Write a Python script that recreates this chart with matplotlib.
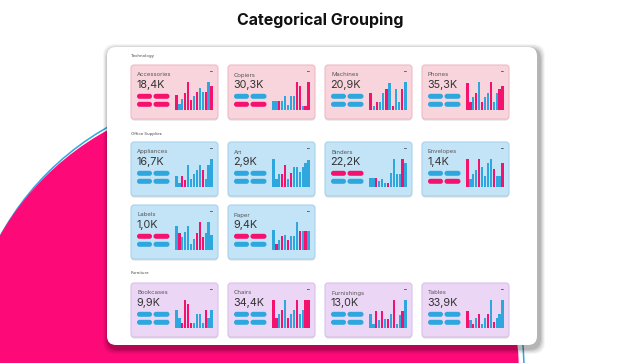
import matplotlib
matplotlib.use("Agg")
import matplotlib.pyplot as plt
from matplotlib.patches import FancyBboxPatch, Circle

plt.rcParams['font.family'] = ['Inter', 'DejaVu Sans']

PINK = "#f5126f"
BLUE = "#2ea7df"

# ---- data ----
sections = ["Technology", "Office Supplies", "Furniture"]
names = ["Accessories", "Copiers", "Machines", "Phones",
         "Appliances", "Art", "Binders", "Envelopes", "Labels", "Paper",
         "Bookcases", "Chairs", "Furnishings", "Tables"]
section_of = [0, 0, 0, 0, 1, 1, 1, 1, 1, 1, 2, 2, 2, 2]
totals = ["18,4K", "30,3K", "20,9K", "35,3K",
          "16,7K", "2,9K", "22,2K", "1,4K", "1,0K", "9,4K",
          "9,9K", "34,4K", "13,0K", "33,9K"]
# colour of the two pill rows (P = pink, B = blue)
pill_colors = ["PP", "BP", "BB", "BB", "BB", "BB", "PB", "BP", "PB", "PB",
               "BB", "BB", "BB", "BB"]
bar_colors = ["PBBPPPBPBBPBP", "BBPBBBBBPPBPP", "PBPBBPBPBBPB", "PPBPBPBBPBBPP",
              "BBPPBBBBBPBBB", "BBBPPBPBBBBBB", "BBPBBBPBBBBPB", "PBBBPBBBBPBBP",
              "BPBBBBBPPPBBB", "BPBPBPBBBPBPB",
              "BBPPPPBBBBPBB", "PPBPBPBBPBBPP", "BBPBPBPBPBBPB", "PBPBPBBPBPBBB"]
bar_heights = [
    [0.55, 0.2, 0.38, 0.6, 1.0, 0.35, 0.5, 0.65, 0.8, 0.65, 0.65, 1.0, 0.85],
    [0.33, 0.33, 0.33, 0.33, 0.5, 0.18, 0.5, 0.5, 1.0, 0.85, 0.15, 0.15, 1.0],
    [0.6, 0.15, 0.3, 0.3, 0.6, 0.75, 0.95, 0.15, 0.75, 0.3, 0.75, 1.0],
    [0.95, 0.3, 0.45, 0.6, 1.0, 0.3, 0.45, 0.6, 1.0, 0.3, 0.6, 0.75, 0.85],
    [0.4, 0.15, 0.4, 0.25, 0.8, 0.3, 0.45, 0.6, 0.8, 0.6, 0.3, 0.8, 1.0],
    [1.0, 0.3, 0.45, 0.45, 0.8, 0.3, 0.5, 0.7, 0.7, 0.55, 0.7, 0.85, 0.95],
    [0.32, 0.32, 0.32, 0.2, 0.3, 0.15, 0.15, 0.5, 1.0, 0.45, 0.45, 1.0, 0.85],
    [1.0, 0.3, 0.45, 0.62, 1.0, 0.7, 0.4, 0.85, 1.0, 0.65, 0.4, 0.4, 0.85],
    [0.85, 0.6, 0.45, 0.65, 0.85, 0.2, 0.4, 0.6, 1.0, 0.45, 0.6, 1.0, 0.55],
    [0.7, 0.2, 0.35, 0.5, 0.55, 0.35, 0.5, 0.5, 1.0, 0.68, 0.68, 0.68, 0.68],
    [0.65, 0.35, 0.18, 1.0, 0.85, 0.18, 0.18, 0.5, 0.5, 0.18, 0.65, 0.35, 0.65],
    [1.0, 0.35, 0.5, 0.65, 1.0, 0.35, 0.5, 0.65, 1.0, 0.5, 0.65, 1.0, 1.0],
    [0.5, 0.15, 0.62, 0.3, 0.62, 0.32, 0.32, 0.5, 1.0, 0.15, 0.48, 0.62, 1.0],
    [0.6, 0.3, 0.15, 0.35, 0.5, 0.15, 0.35, 0.5, 1.0, 0.2, 0.35, 0.5, 1.0],
]

# ---- layout (pixels) ----
W, H = 640, 363
card_fill = ["#f8d5dc", "#c3e3f6", "#ebd7f5"]
card_edge = ["#efb9c6", "#a8d2ec", "#d8c0ea"]
section_y = [56, 134, 273]
row_y = [65, 142, 205, 283]
card_row = [0, 0, 0, 0, 1, 1, 1, 1, 2, 2, 3, 3, 3, 3]
card_col = [0, 1, 2, 3, 0, 1, 2, 3, 0, 1, 0, 1, 2, 3]
x0, dx, cw, ch = 131, 97, 87, 54
cmap = {"P": PINK, "B": BLUE}

fig = plt.figure(figsize=(W / 100, H / 100), dpi=100)
ax = fig.add_axes([0, 0, 1, 1])
ax.set_xlim(0, W)
ax.set_ylim(H, 0)
ax.axis("off")

# background blob
ax.add_patch(Circle((245, 370), 279, fill=False, ec=BLUE, lw=1.1, zorder=1))
ax.add_patch(Circle((241, 374), 278, fc="#fe0a78", ec="none", zorder=2))

ax.text(W / 2, 20, "Categorical Grouping", ha="center", va="center",
        fontsize=11.5, fontweight="bold", color="#111111")

# white panel with soft shadow
for i, a in enumerate([0.04, 0.05, 0.06, 0.08, 0.09]):
    p = 6 - i
    ax.add_patch(FancyBboxPatch((107 - p + 2, 47 - p + 3), 430 + 2 * p, 298 + 2 * p,
                                boxstyle="round,pad=0,rounding_size=12",
                                fc="#000000", ec="none", alpha=a, zorder=3))
ax.add_patch(FancyBboxPatch((107, 47), 430, 298,
                            boxstyle="round,pad=0,rounding_size=9",
                            fc="white", ec="none", zorder=4))

for s, y in zip(sections, section_y):
    ax.text(131, y, s, fontsize=3, color="#444444", va="center", zorder=5)

for i, name in enumerate(names):
    sx = x0 + dx * card_col[i]
    sy = row_y[card_row[i]]
    sec = section_of[i]
    ax.add_patch(FancyBboxPatch((sx, sy + 1.5), cw, ch,
                                boxstyle="round,pad=0,rounding_size=3",
                                fc="#888888", ec="none", alpha=0.3, zorder=5))
    ax.add_patch(FancyBboxPatch((sx, sy), cw, ch,
                                boxstyle="round,pad=0,rounding_size=3",
                                fc=card_fill[sec], ec=card_edge[sec], lw=0.8, zorder=6))
    ax.text(sx + 6, sy + 10, name, fontsize=4.3, color="#555555", va="center", zorder=7)
    ax.text(sx + 5.5, sy + 20, totals[i], fontsize=7.8, color="#333333", va="center", zorder=7)
    ax.text(sx + 80, sy + 7, "–", fontsize=4, color="#444444", ha="center",
            va="center", fontweight="bold", zorder=7)
    for r, c in enumerate(pill_colors[i]):
        for px, pw in [(6, 15), (22.5, 16)]:
            ax.add_patch(FancyBboxPatch((sx + px, sy + 28.8 + 8 * r), pw, 5.0,
                                        boxstyle="round,pad=0,rounding_size=2.5",
                                        fc=cmap[c], ec="none", zorder=7))
    # mini bar chart
    bx, by, bw, bh = sx + 44, sy + 17, 38, 28
    bax = fig.add_axes([bx / W, 1 - (by + bh) / H, bw / W, bh / H])
    vals = bar_heights[i]
    cols = [cmap[c] for c in bar_colors[i]]
    bax.bar(range(len(vals)), vals, width=0.78, color=cols)
    bax.set_xlim(-0.5, len(vals) - 0.5)
    bax.set_ylim(0, max(vals))
    bax.axis("off")

fig.savefig("out.png", dpi=100)
